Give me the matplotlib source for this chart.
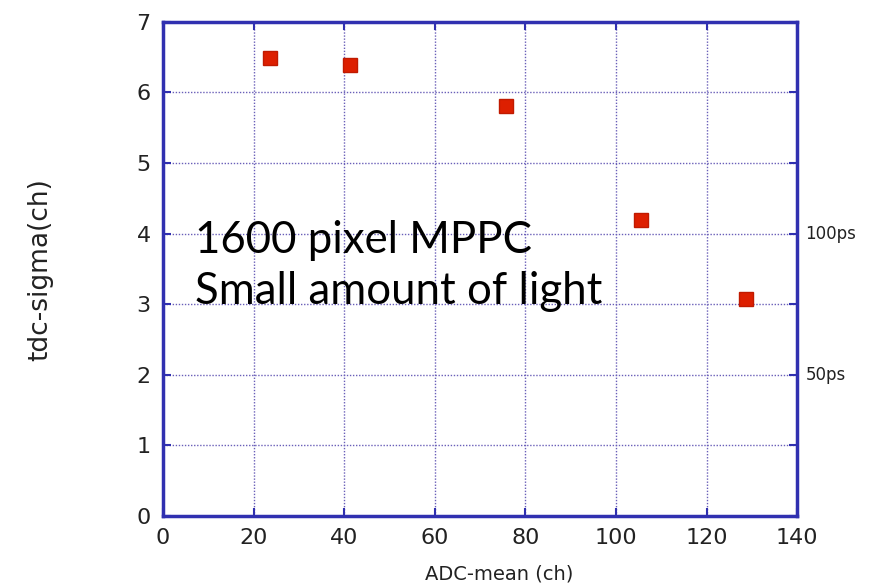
import matplotlib.pyplot as plt

adc_mean = [23.6, 41.3, 75.8, 105.6, 128.6]
tdc_sigma = [6.49, 6.38, 5.80, 4.19, 3.08]

x_ticks = [0, 20, 40, 60, 80, 100, 120, 140]
y_ticks = [0, 1, 2, 3, 4, 5, 6, 7]
ps_labels = {4: "100ps", 2: "50ps"}

blue = "#3030b0"
grid_col = "#6a5fb8"

fig = plt.figure(figsize=(8.77, 5.87), dpi=100)
ax = fig.add_axes([0.186, 0.121, 0.723, 0.842])

ax.plot(adc_mean, tdc_sigma, linestyle="none", marker="s", markersize=10,
        markerfacecolor="#dd1f00", markeredgecolor="#c01a00", zorder=3)

ax.set_xlim(0, 140)
ax.set_ylim(0, 7)
ax.set_xticks(x_ticks)
ax.set_yticks(y_ticks)
ax.grid(True, linestyle=(0, (1, 1.2)), color=grid_col, linewidth=1.0)
ax.tick_params(direction="in", length=6, width=1.5, color=blue,
               top=True, right=True, labelsize=16, pad=9, labelcolor="#222222")
for s in ax.spines.values():
    s.set_color(blue)
    s.set_linewidth(2.5)

for yv, lab in ps_labels.items():
    ax.text(1.013, yv, lab, transform=ax.get_yaxis_transform(), fontsize=12,
            va="center", ha="left", color="#222222")

ax.text(7, 3.0, "1600 pixel MPPC\nSmall amount of light", fontsize=31.5,
        family="Lato", color="black", linespacing=1.3, va="baseline",
        ha="left", zorder=4)

fig.text(0.046, 0.54, "tdc-sigma(ch)", rotation=90, fontsize=19,
         va="center", ha="center", color="#222222")
fig.text(0.569, 0.022, "ADC-mean (ch)", fontsize=14, va="center", ha="center",
         color="#222222")

fig.savefig("out.png", dpi=100)
